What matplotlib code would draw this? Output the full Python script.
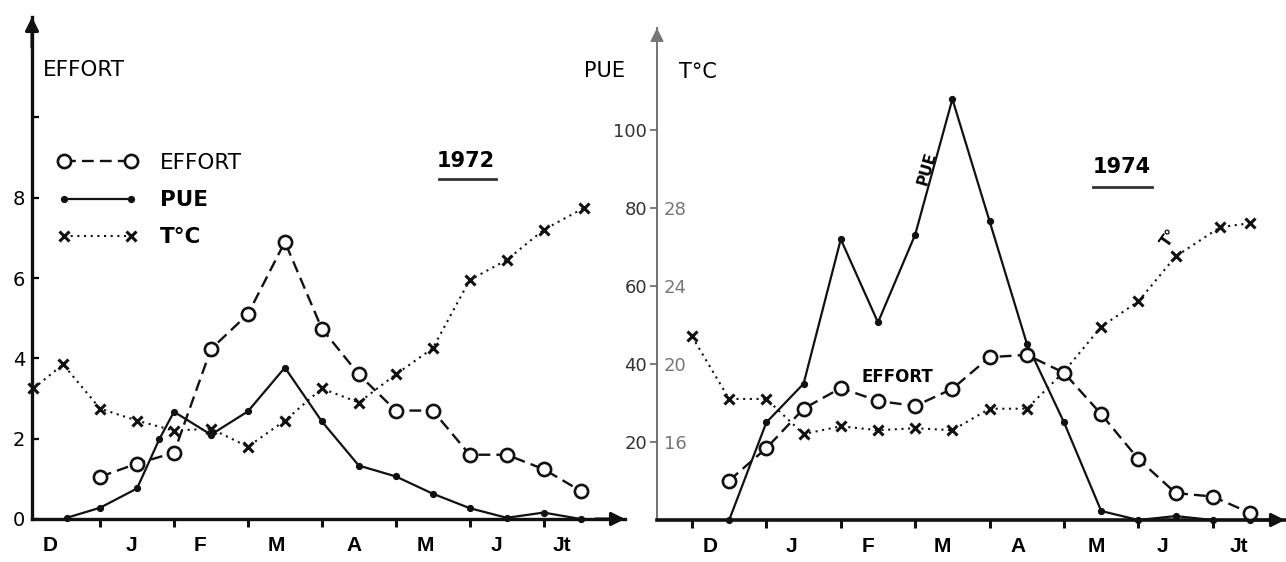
"""
Effort, PUE and water temperature, Dec-Jul, seasons 1972 and 1974.
Two hand-drawn style panels; PUE and T share the middle axis.
"""
import matplotlib
matplotlib.use("Agg")
import matplotlib.pyplot as plt
from matplotlib.lines import Line2D
from matplotlib.legend_handler import HandlerLine2D

# x positions are in months from 1 December (1 = 1 Jan, 2 = 1 Feb, ...)
MONTHS = ["D", "J", "F", "M", "A", "M", "J", "Jt"]

# ---- 1972 ----
EFF72_X = [1.0, 1.5, 2.0, 2.5, 3.0, 3.5, 4.0, 4.5, 5.0, 5.5, 6.0, 6.5, 7.0, 7.5]
EFF72 = [1.05, 1.38, 1.65, 4.23, 5.1, 6.9, 4.74, 3.6, 2.7, 2.7, 1.6, 1.6, 1.24, 0.7]
PUE72_X = [0.55, 1.0, 1.5, 1.8, 2.0, 2.5, 3.0, 3.5, 4.0, 4.5, 5.0, 5.5, 6.0, 6.5, 7.0, 7.5]
PUE72 = [0.3, 2.8, 7.6, 19.8, 26.7, 21.0, 26.8, 37.7, 24.3, 13.3, 10.6, 6.3, 2.7, 0.3, 1.6, 0.0]
T72_X = [0.1, 0.5, 1.0, 1.5, 2.0, 2.5, 3.0, 3.5, 4.0, 4.5, 5.0, 5.5, 6.0, 6.5, 7.0, 7.55]
T72 = [18.5, 19.7, 17.5, 16.9, 16.4, 16.5, 15.6, 16.9, 18.5, 17.8, 19.2, 20.5,
       23.9, 24.9, 26.4, 27.5]

# ---- 1974 ----
EFF74_X = [0.5, 1.0, 1.5, 2.0, 2.5, 3.0, 3.5, 4.0, 4.5, 5.0, 5.5, 6.0, 6.5, 7.0, 7.5]
EFF74 = [1.01, 1.84, 2.85, 3.38, 3.05, 2.92, 3.36, 4.17, 4.23, 3.77, 2.71, 1.56,
         0.69, 0.60, 0.18]
PUE74_X = [0.5, 1.0, 1.5, 2.0, 2.5, 3.0, 3.5, 4.0, 4.5, 5.0, 5.5, 6.0, 6.5, 7.0, 7.5]
PUE74 = [0.0, 25.0, 34.9, 71.9, 50.6, 73.1, 107.8, 76.5, 45.2, 25.0, 2.3, 0.0,
         1.0, 0.0, 0.0]
T74_X = [0.0, 0.5, 1.0, 1.5, 2.0, 2.5, 3.0, 3.5, 4.0, 4.5, 5.0, 5.5, 6.0, 6.5, 7.1, 7.5]
T74 = [21.4, 18.2, 18.2, 16.4, 16.8, 16.6, 16.7, 16.6, 17.7, 17.7, 19.6, 21.9,
       23.2, 25.5, 27.0, 27.2]

W, H = 1286, 562
INK = "#111111"
NARROW = ["Liberation Sans Narrow", "Liberation Sans", "DejaVu Sans"]

EFF_STYLE = dict(color=INK, lw=1.7, ls=(0, (5, 2.6)), marker="o", ms=9.5,
                 mfc="white", mec=INK, mew=1.9, clip_on=False)
PUE_STYLE = dict(color=INK, lw=1.6, ls="-", marker="o", ms=4.2, mfc=INK,
                 mec=INK, clip_on=False)
T_STYLE = dict(color=INK, lw=1.5, ls=(0, (1, 2.2)), marker="x", ms=7,
               mew=2.2, mec=INK, clip_on=False)


def fx(x):
    return x / W


def fy(y):
    return 1 - y / H


def arrow(ax, xy, xytext, color=INK, lw=2.2):
    ax.annotate("", xy=xy, xytext=xytext, xycoords="axes fraction",
                arrowprops=dict(arrowstyle="-|>", color=color, lw=lw,
                                mutation_scale=20, shrinkA=0, shrinkB=0),
                annotation_clip=False)


def month_axis(ax, major, label_pos):
    ax.set_xticks(major)
    ax.set_xticklabels([""] * len(major))
    ax.set_xticks(label_pos, minor=True)
    ax.set_xticklabels(MONTHS, minor=True, family=NARROW, weight="bold",
                       fontsize=15)
    ax.tick_params(axis="x", which="major", direction="out", length=6,
                   width=2.2, color=INK)
    ax.tick_params(axis="x", which="minor", length=0, pad=12)


def hide(ax):
    ax.axis("off")
    ax.patch.set_visible(False)


fig = plt.figure(figsize=(W / 100, H / 100), dpi=100)
fig.patch.set_facecolor("white")

# -----------------------------------------------------------------
# 1972 panel (left): effort axis, PUE and T on hidden twin scales
# -----------------------------------------------------------------
axL = fig.add_axes([fx(32), fy(519), fx(625 - 32), (519 - 17) / H])
axL.set_xlim(0.08, 8.1)
axL.set_ylim(0, 12.5)
for s in ("top", "right"):
    axL.spines[s].set_visible(False)
for s in ("left", "bottom"):
    axL.spines[s].set_linewidth(2.4)
    axL.spines[s].set_color(INK)
axL.set_yticks([0, 2, 4, 6, 8, 10])
axL.set_yticklabels(["0", "2", "4", "6", "8", ""], fontsize=14)
axL.tick_params(axis="y", direction="in", length=5, width=1.6, pad=5)
month_axis(axL, range(1, 8), [0.32, 1.42, 2.35, 3.39, 4.43, 5.4, 6.36, 7.25])
arrow(axL, (0, 1.0), (0, 0.94))
arrow(axL, (1.0, 0), (0.95, 0))

axL_pue = axL.twinx()
axL_pue.set_ylim(0, 125)
hide(axL_pue)
axL_t = axL.twinx()
axL_t.set_ylim(12, 37)
hide(axL_t)
axL.set_zorder(3)
axL.patch.set_visible(False)

h_eff, = axL.plot(EFF72_X, EFF72, **EFF_STYLE)
h_pue, = axL_pue.plot(PUE72_X, PUE72, **PUE_STYLE)
h_t, = axL_t.plot(T72_X, T72, **T_STYLE)

leg = axL.legend([h_eff, h_pue, h_t], ["EFFORT", "PUE", "T\u00b0C"],
                 loc="upper left", bbox_to_anchor=(fx(64), fy(153)),
                 bbox_transform=fig.transFigure, frameon=False,
                 fontsize=15.5, handlelength=3.1, handletextpad=1.35,
                 labelspacing=0.8, borderpad=0, borderaxespad=0,
                 handler_map={Line2D: HandlerLine2D(numpoints=2, marker_pad=0)})
for t in leg.get_texts()[1:]:
    t.set_weight("bold")

fig.text(fx(43), fy(70), "EFFORT", fontsize=15.5, va="center", ha="left")
fig.text(fx(466), fy(161), "1972", fontsize=15, weight="bold",
         ha="center", va="center")
fig.add_artist(Line2D([fx(439), fx(496)], [fy(179), fy(179)], color="#333333",
                      lw=2.0, transform=fig.transFigure))

# -----------------------------------------------------------------
# 1974 panel (right): PUE axis with T scale on the same spine
# -----------------------------------------------------------------
axR = fig.add_axes([fx(657), fy(520), fx(1285 - 657), (520 - 28) / H])
axR.set_xlim(-0.47, 7.97)
axR.set_ylim(0, 126)
axR.spines["top"].set_visible(False)
axR.spines["right"].set_visible(False)
axR.spines["bottom"].set_linewidth(2.6)
axR.spines["bottom"].set_color(INK)
axR.spines["left"].set_linewidth(1.3)
axR.spines["left"].set_linestyle((0, (1, 1)))
axR.spines["left"].set_color("#666666")
axR.set_yticks([20, 40, 60, 80, 100])
axR.set_yticklabels(["20", "40", "60", "80", "100"], fontsize=13,
                    color="#333333")
axR.tick_params(axis="y", direction="out", length=5, width=1.2,
                color="#666666", pad=2)
month_axis(axR, range(0, 8), [0.24, 1.34, 2.36, 3.36, 4.38, 5.43, 6.32, 7.35])
arrow(axR, (0, 1.0), (0, 0.94), color="#777777", lw=1.3)
arrow(axR, (1.0, 0), (0.95, 0))

axR_t = axR.twinx()
axR_t.set_ylim(12, 12 + 126 / 5)
axR_t.patch.set_visible(False)
for s in ("top", "left", "bottom"):
    axR_t.spines[s].set_visible(False)
axR_t.spines["right"].set_position(("axes", 0))
axR_t.spines["right"].set_visible(False)
axR_t.set_yticks([16, 20, 24, 28])
axR_t.set_yticklabels(["16", "20", "24", "28"], fontsize=13, color="#777777")
axR_t.tick_params(axis="y", length=0, pad=5)

axR_e = axR.twinx()
axR_e.set_ylim(0, 12.6)
hide(axR_e)
axR.patch.set_visible(False)
axR_t.set_zorder(1)
axR.set_zorder(2)
axR_e.set_zorder(3)

axR.plot(PUE74_X, PUE74, **PUE_STYLE)
axR_t.plot(T74_X, T74, **T_STYLE)
axR_e.plot(EFF74_X, EFF74, **EFF_STYLE)

axR.text(3.16, 90, "PUE", fontsize=11, weight="bold", rotation=74,
         ha="center", va="center")
axR.text(2.76, 36.7, "EFFORT", fontsize=12, weight="bold",
         ha="center", va="center")
axR.text(6.41, 72.3, "T\u00b0", fontsize=11, weight="bold", rotation=55,
         ha="center", va="center")

fig.text(fx(605), fy(71), "PUE", fontsize=15, ha="center", va="center")
fig.text(fx(698), fy(72), "T\u00b0C", fontsize=15, ha="center", va="center")
fig.text(fx(1122), fy(167), "1974", fontsize=15, weight="bold",
         ha="center", va="center")
fig.add_artist(Line2D([fx(1093), fx(1152)], [fy(187), fy(187)], color="#333333",
                      lw=2.0, transform=fig.transFigure))

fig.savefig("out.png", dpi=100, facecolor="white")
